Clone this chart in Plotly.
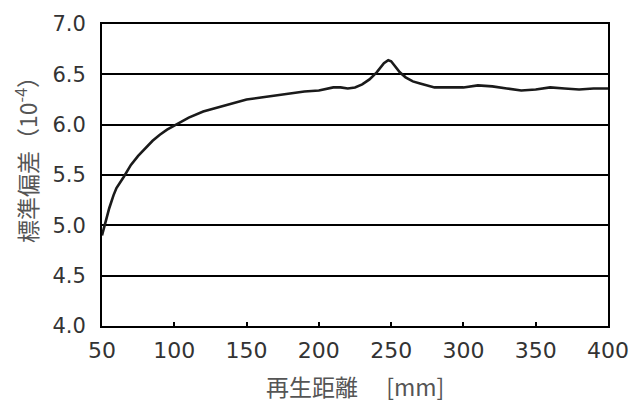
import plotly.graph_objects as go

distance_mm = [50, 52, 55, 58, 60, 65, 70, 75, 80, 85, 90, 95, 100, 105, 110, 120, 130, 140,
               150, 160, 170, 180, 190, 200, 210, 215, 220, 225, 230, 235, 240, 245, 248, 250,
               253, 256, 260, 265, 270, 275, 280, 290, 300, 310, 320, 330, 340, 350, 360, 370,
               380, 390, 400]
std_dev = [4.90, 5.02, 5.17, 5.30, 5.37, 5.48, 5.60, 5.69, 5.77, 5.84, 5.90, 5.95, 5.99, 6.03,
           6.07, 6.13, 6.17, 6.21, 6.25, 6.27, 6.29, 6.31, 6.33, 6.34, 6.37, 6.37, 6.36, 6.37,
           6.40, 6.45, 6.52, 6.61, 6.64, 6.63, 6.58, 6.52, 6.47, 6.43, 6.41, 6.39, 6.37, 6.37,
           6.37, 6.39, 6.38, 6.36, 6.34, 6.35, 6.37, 6.36, 6.35, 6.36, 6.36]

x_ticks = [50, 100, 150, 200, 250, 300, 350, 400]
y_ticks = [4.0, 4.5, 5.0, 5.5, 6.0, 6.5, 7.0]
x_title = "再生距離　 [mm]"
y_title = "標準偏差（10<sup>-4</sup>）"

fig = go.Figure()
fig.add_trace(go.Scatter(x=distance_mm, y=std_dev, mode="lines",
                         line=dict(color="#1a1a1a", width=2.6), showlegend=False))

fig.update_xaxes(range=[50, 400], tickvals=x_ticks, ticktext=[str(v) for v in x_ticks],
                 showgrid=False, zeroline=False, showline=True, linecolor="black", linewidth=2,
                 mirror=True, ticks="inside", ticklen=4, tickwidth=2, tickcolor="black",
                 ticklabelstandoff=4,
                 tickfont=dict(family="DejaVu Sans", size=22, color="#333333"))
fig.update_yaxes(range=[4.0, 7.0], tickvals=y_ticks, ticktext=[f"{v:.1f}" for v in y_ticks],
                 showgrid=True, gridcolor="black", gridwidth=1.8, zeroline=False,
                 showline=True, linecolor="black", linewidth=2, mirror=True,
                 ticks="", ticklabelstandoff=10,
                 tickfont=dict(family="DejaVu Sans", size=21, color="#333333"))

fig.add_annotation(text=x_title, xref="paper", yref="paper", x=0.5, y=-0.2,
                   xanchor="center", yanchor="middle", showarrow=False,
                   font=dict(family="Noto Sans CJK JP", size=23, color="#555555"))
fig.add_annotation(text=y_title, xref="paper", yref="paper", x=-0.15, y=0.57,
                   xanchor="center", yanchor="middle", showarrow=False, textangle=-90,
                   font=dict(family="Noto Sans CJK JP", size=23, color="#555555"))

fig.update_layout(width=641, height=415, margin=dict(l=102, r=25, t=12, b=89),
                  plot_bgcolor="white", paper_bgcolor="white")
fig.write_html("out.html")
